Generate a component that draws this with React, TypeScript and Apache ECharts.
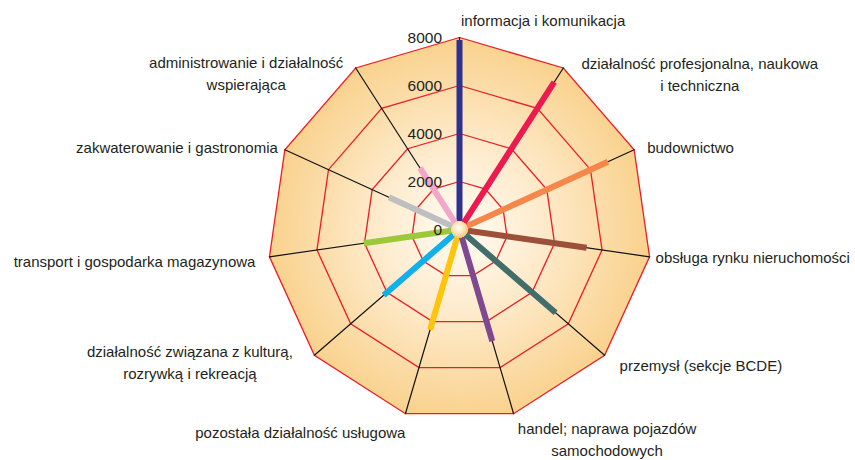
import React, { useEffect, useRef } from 'react';
import * as echarts from 'echarts';

// ---- data (clockwise from the top) ----
const categories: string[] = [
  'informacja i komunikacja',
  'działalność profesjonalna, naukowa\ni techniczna',
  'budownictwo',
  'obsługa rynku nieruchomości',
  'przemysł (sekcje BCDE)',
  'handel; naprawa pojazdów\nsamochodowych',
  'pozostała działalność usługowa',
  'działalność związana z kulturą,\nrozrywką i rekreacją',
  'transport i gospodarka magazynowa',
  'zakwaterowanie i gastronomia',
  'administrowanie i działalność\nwspierająca',
];
const values: number[] = [7900, 7300, 6800, 5350, 5300, 4850, 4350, 4180, 4030, 3230, 3050];
const axisMin = 0;
const axisMax = 8000;
const splitCount = 4; // ticks 0, 2000, 4000, 6000, 8000

// ---- styles ----
const lineColors = [
  '#2E3192', '#EC1A4F', '#F5874A', '#9C5039', '#436D6A', '#7E4990',
  '#FFC40C', '#12B0EA', '#9CC83C', '#BDBFC1', '#F2A6C8',
];
const FONT = '"Liberation Sans", Arial, Helvetica, sans-serif';
const TEXT = '#231f20';
// name label layout per category: align + padding [top, right, bottom, left] (offset from vertex)
const nameLayout: { align: string; padding: number[] }[] = [
  { align: 'left', padding: [-28.5, 0, 0, 1.5] },
  { align: 'center', padding: [-15, 0, 0, 273] },
  { align: 'left', padding: [-13.5, 0, 0, 13] },
  { align: 'left', padding: [-10.5, 0, 0, 6] },
  { align: 'left', padding: [-0.5, 0, 0, 15] },
  { align: 'center', padding: [4, 0, 0, 187] },
  { align: 'right', padding: [7.5, 0, 0, 0] },
  { align: 'center', padding: [-14.5, 249, 0, 0] },
  { align: 'right', padding: [-6, 14, 0, 0] },
  { align: 'right', padding: [-13.5, 7, 0, 0] },
  { align: 'center', padding: [-16.5, 219, 0, 0] },
];

const CX = 459.5;
const CY = 229.5;
const R = 192;

export default function App() {
  const ref = useRef<HTMLDivElement>(null);
  useEffect(() => {
    if (!ref.current) return;
    const chart = echarts.init(ref.current, undefined, { renderer: 'svg' });
    // ECharts radar runs counter-clockwise; order so that it reads clockwise
    const order = [0, ...categories.map((_, i) => i).slice(1).reverse()];
    const indicator = order.map((ci) => ({
      name: categories[ci],
      min: axisMin,
      max: axisMax,
      nameGap: 0,
      nameTextStyle: {
        color: TEXT,
        fontSize: 15,
        fontFamily: FONT,
        lineHeight: 22,
        align: nameLayout[ci].align,
        verticalAlign: 'top',
        padding: nameLayout[ci].padding,
      },
    }));
    // overlay radar that only carries the value labels of the first axis (drawn above the spokes)
    const labelIndicator = order.map((ci) => {
      const ind: any = { name: '', min: axisMin, max: axisMax };
      if (ci === 0) {
        ind.axisLabel = {
          show: true,
          color: TEXT,
          fontSize: 15.5,
          fontFamily: FONT,
          margin: 17.5,
          formatter: (v: number) => String(v),
        };
      }
      return ind;
    });

    const fillGrad = new echarts.graphic.RadialGradient(
      CX, CY, R,
      [
        { offset: 0, color: '#FFFCF4' },
        { offset: 0.45, color: '#FEEACA' },
        { offset: 1, color: '#F9D18C' },
      ],
      true
    );

    const spokeData = order.map((ci) => ({
      name: categories[ci],
      value: order.map((cj) => (cj === ci ? values[ci] : 0)),
      symbol: 'none',
      lineStyle: { color: lineColors[ci], width: 6, join: 'bevel', cap: 'butt', opacity: 1 },
      areaStyle: { opacity: 0 },
    }));

    const hubData = [
      {
        name: 'hub',
        value: order.map(() => 0),
        symbol: 'circle',
        symbolSize: 16,
        symbolOffset: [0, -3],
        itemStyle: {
          color: new echarts.graphic.RadialGradient(0.45, 0.4, 0.6, [
            { offset: 0, color: '#FFFDF5' },
            { offset: 0.55, color: '#FDE6BC' },
            { offset: 1, color: '#F6C679' },
          ]),
          borderWidth: 0,
        },
        lineStyle: { width: 0, opacity: 0 },
      },
    ];

    chart.setOption({
      animation: false,
      radar: [
        {
          center: [CX, CY],
          radius: R,
          startAngle: 90,
          shape: 'polygon',
          splitNumber: splitCount,
          axisName: { show: true, color: TEXT, fontSize: 15, fontFamily: FONT },
          axisNameGap: 0,
          axisLine: { show: true, lineStyle: { color: '#111', width: 1.2 } },
          axisTick: { show: false },
          axisLabel: { show: false },
          splitLine: { show: true, lineStyle: { color: '#ED1C24', width: 1.3 } },
          splitArea: { show: true, areaStyle: { color: [fillGrad] } },
          indicator,
        },
        {
          center: [CX, CY],
          radius: R,
          startAngle: 90,
          shape: 'polygon',
          splitNumber: splitCount,
          z: 10,
          axisName: { show: false },
          axisLine: { show: false },
          axisTick: { show: false },
          axisLabel: { show: false },
          splitLine: { show: false },
          splitArea: { show: false },
          indicator: labelIndicator,
        },
      ],
      series: [
        { type: 'radar', radarIndex: 0, silent: true, emphasis: { disabled: true }, data: spokeData, z: 2 },
        { type: 'radar', radarIndex: 0, silent: true, emphasis: { disabled: true }, data: hubData, z: 3 },
      ],
    });
    return () => chart.dispose();
  }, []);
  return (
    <div
      ref={ref}
      style={{ position: 'fixed', left: 0, top: 0, width: 855, height: 460, background: '#fff' }}
    />
  );
}
